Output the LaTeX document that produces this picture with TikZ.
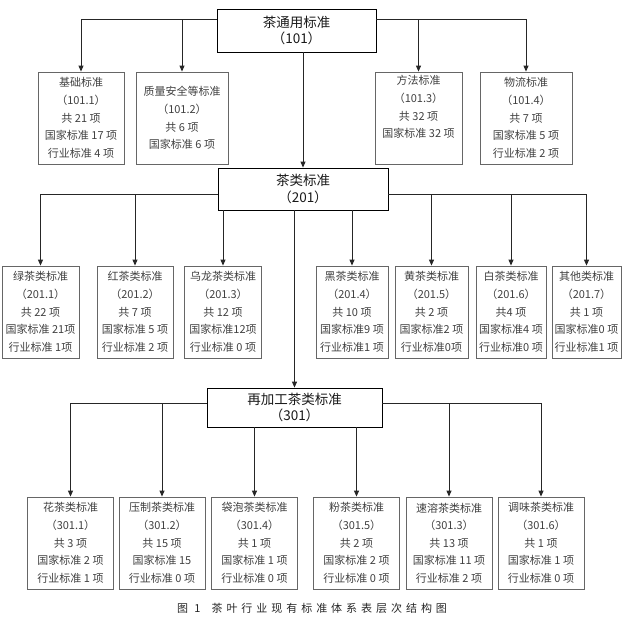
\documentclass[tikz,border=0pt]{standalone}
\usepackage{fontspec}
\setmainfont{Noto Sans CJK SC}
\newfontfamily\capfont{Noto Sans CJK SC}[LetterSpace=36]
\usetikzlibrary{arrows.meta}

\tikzset{
  head/.style={draw=black,line width=0.8pt,inner sep=0pt,align=center,text=black!90,font=\fontsize{13.5}{16.5}\selectfont},
  leaf/.style={draw=black!60,line width=0.8pt,inner sep=0pt,align=center,minimum height=92pt,text=black!75,font=\fontsize{11}{17.6}\selectfont},
  link/.style={line width=1pt,black!85,-{Triangle[length=6pt,width=5pt]}}
}

\begin{document}
\begin{tikzpicture}[x=1pt,y=-1pt]
\useasboundingbox (0,0) rectangle (622,631);
%general standards
\node[head,minimum width=159pt,minimum height=43pt] (gen) at (296.5,30.5) {茶通用标准\\（101）};
\foreach \nm/\x/\w/\txt in {
  b1/81/86/{基础标准\\（101.1）\\共 21 项\\国家标准 17 项\\行业标准 4 项},
  b2/182/92/{质量安全等标准\\（101.2）\\共 6 项\\国家标准 6 项},
  b3/418.5/87/{方法标准\\（101.3）\\共 32 项\\国家标准 32 项\\\strut},
  b4/526/92/{物流标准\\（101.4）\\共 7 项\\国家标准 5 项\\行业标准 2 项}}
  \node[leaf,minimum width=\w pt] (\nm) at (\x,118) {\txt};
\draw[link] ([yshift=10.5pt]gen.west) -| (b1);
\draw[link] ([yshift=10.5pt]gen.west) -| (b2);
\draw[link] ([yshift=10.5pt]gen.east) -| (b3);
\draw[link] ([yshift=10.5pt]gen.east) -| (b4);
%tea categories
\node[head,minimum width=170pt,minimum height=42pt] (cat) at (303,189) {茶类标准\\（201）};
\draw[link] (cat.north |- gen.south) -- (cat.north);
\foreach \nm/\x/\w/\txt in {
  g1/40.5/77/{绿茶类标准\\（201.1）\\共 22 项\\国家标准 21项\\行业标准 1项},
  g2/135/76/{红茶类标准\\（201.2）\\共 7 项\\国家标准 5 项\\行业标准 2 项},
  g3/223/77/{乌龙茶类标准\\（201.3）\\共 12 项\\国家标准12项\\行业标准 0 项},
  g4/352/72/{黑茶类标准\\（201.4）\\共 10 项\\国家标准9 项\\行业标准1 项},
  g5/431.5/73/{黄茶类标准\\（201.5）\\共 2 项\\国家标准2 项\\行业标准0项},
  g6/511/70/{白茶类标准\\（201.6）\\共4 项\\国家标准4 项\\行业标准0 项},
  g7/586.5/69/{其他类标准\\（201.7）\\共 1 项\\国家标准0 项\\行业标准1 项}}
  \node[leaf,minimum width=\w pt] (\nm) at (\x,312) {\txt};
\draw[link] ([yshift=-5pt]cat.west) -| (g1);
\draw[link] ([yshift=-5pt]cat.west) -| (g2);
\draw[link] (g3.north |- cat.south) -- (g3.north);
\draw[link] (g4.north |- cat.south) -- (g4.north);
\draw[link] ([yshift=-5pt]cat.east) -| (g5);
\draw[link] ([yshift=-5pt]cat.east) -| (g6);
\draw[link] ([yshift=-5pt]cat.east) -| (g7);
%reprocessed tea
\node[head,minimum width=175pt,minimum height=39pt] (rep) at (294.5,407.5) {再加工茶类标准\\（301）};
\draw[link] (rep.north |- cat.south) -- (rep.north);
\foreach \nm/\x/\txt in {
  r1/70.5/{花茶类标准\\（301.1）\\共 3 项\\国家标准 2 项\\行业标准 1 项},
  r2/162/{压制茶类标准\\（301.2）\\共 15 项\\国家标准 15\\行业标准 0 项},
  r4/254.5/{袋泡茶类标准\\（301.4）\\共 1 项\\国家标准 1 项\\行业标准 0 项},
  r5/356.5/{粉茶类标准\\（301.5）\\共 2 项\\国家标准 2 项\\行业标准 0 项},
  r3/449/{速溶茶类标准\\（301.3）\\共 13 项\\国家标准 11 项\\行业标准 2 项},
  r6/541/{调味茶类标准\\（301.6）\\共 1 项\\国家标准 1 项\\行业标准 0 项}}
  \node[leaf,minimum width=86pt] (\nm) at (\x,543) {\txt};
\draw[link] ([yshift=4.5pt]rep.west) -| (r1);
\draw[link] ([yshift=4.5pt]rep.west) -| (r2);
\draw[link] (r4.north |- rep.south) -- (r4.north);
\draw[link] (r5.north |- rep.south) -- (r5.north);
\draw[link] ([yshift=4.5pt]rep.east) -| (r3);
\draw[link] ([yshift=4.5pt]rep.east) -| (r6);
%caption
\node[font=\capfont\fontsize{11}{13}\selectfont,text=black!85] (cap) at (312,608) {图 1\quad 茶叶行业现有标准体系表层次结构图};
\end{tikzpicture}
\end{document}
